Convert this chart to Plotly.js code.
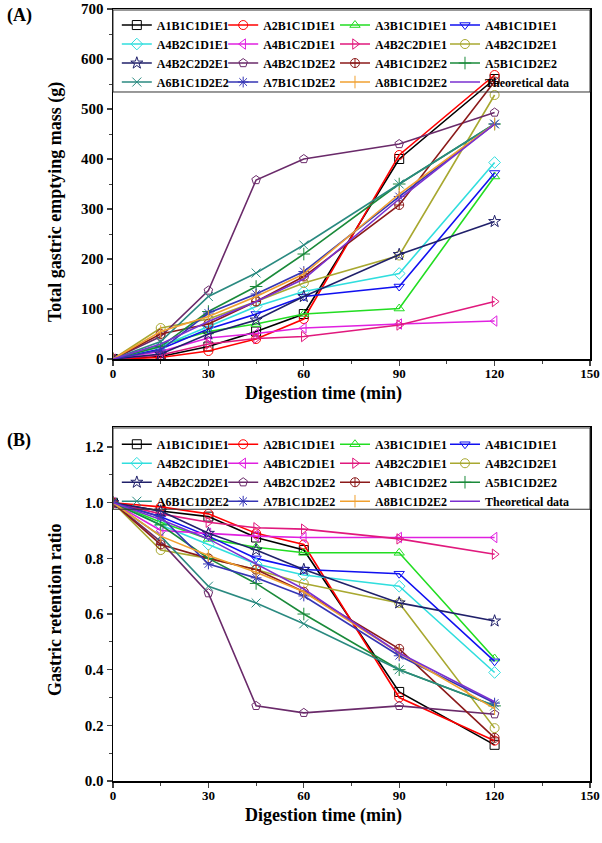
<!DOCTYPE html>
<html><head><meta charset="utf-8">
<script src="https://cdn.plot.ly/plotly-3.0.1.min.js"></script>
<style>html,body{margin:0;padding:0;background:#fff}#chart{width:602px;height:843px}</style>
</head><body><div id="chart"></div>
<script>
var time = [0, 15, 30, 45, 60, 90, 120];
var names = ["A1B1C1D1E1","A2B1C1D1E1","A3B1C1D1E1","A4B1C1D1E1","A4B2C1D1E1","A4B1C2D1E1","A4B2C2D1E1","A4B2C1D2E1","A4B2C2D2E1","A4B2C1D2E2","A4B1C1D2E2","A5B1C1D2E2","A6B1C1D2E2","A7B1C1D2E2","A8B1C1D2E2","Theoretical data"];
// Panel A: total gastric emptying mass (g)
var massA1 = [0, 5, 25, 55, 90, 400, 560];
var massA2 = [0, 3, 16, 40, 80, 408, 568];
var massA3 = [0, 28, 55, 70, 90, 101, 365];
var massA4 = [0, 20, 60, 90, 125, 145, 372];
var massA5 = [0, 25, 65, 105, 135, 171, 393];
var massA6 = [0, 15, 42, 51, 62, 70, 76];
var massA7 = [0, 8, 30, 41, 45, 68, 115];
var massA8 = [0, 62, 80, 115, 152, 207, 528];
var massA9 = [0, 10, 50, 78, 125, 209, 275];
var massA10 = [0, 45, 137, 358, 400, 430, 493];
var massA11 = [0, 50, 70, 115, 165, 308, 555];
var massA12 = [0, 25, 95, 145, 210, 350, 470];
var massA13 = [0, 35, 125, 172, 228, 350, 470];
var massA14 = [0, 18, 92, 130, 175, 325, 470];
var massA15 = [0, 55, 85, 125, 170, 330, 470];
var massTheo = [0, 30, 75, 115, 160, 320, 470];
// Panel B: gastric retention ratio
var retA1 = [1, 0.97, 0.95, 0.875, 0.83, 0.32, 0.13];
var retA2 = [1, 0.985, 0.96, 0.89, 0.85, 0.30, 0.145];
var retA3 = [1, 0.93, 0.87, 0.84, 0.82, 0.82, 0.44];
var retA4 = [1, 0.95, 0.88, 0.80, 0.76, 0.745, 0.43];
var retA5 = [1, 0.92, 0.85, 0.78, 0.74, 0.70, 0.39];
var retA6 = [1, 0.90, 0.89, 0.88, 0.875, 0.875, 0.875];
var retA7 = [1, 0.96, 0.93, 0.91, 0.905, 0.87, 0.815];
var retA8 = [1, 0.83, 0.80, 0.76, 0.71, 0.64, 0.19];
var retA9 = [1, 0.97, 0.89, 0.83, 0.76, 0.64, 0.575];
var retA10 = [1, 0.86, 0.675, 0.27, 0.245, 0.27, 0.24];
var retA11 = [1, 0.85, 0.80, 0.76, 0.68, 0.475, 0.155];
var retA12 = [1, 0.92, 0.80, 0.71, 0.60, 0.40, 0.27];
var retA13 = [1, 0.88, 0.70, 0.64, 0.565, 0.40, 0.27];
var retA14 = [1, 0.95, 0.78, 0.73, 0.665, 0.45, 0.28];
var retA15 = [1, 0.88, 0.81, 0.75, 0.68, 0.46, 0.26];
var retTheo = [1, 0.94, 0.87, 0.78, 0.69, 0.46, 0.285];

var xTickVals = [0, 30, 60, 90, 120, 150];
var xTitle = 'Digestion time (min)';
var yTitleA = 'Total gastric emptying mass (g)';
var yTitleB = 'Gastric retention ratio';

var massSeries = [massA1,massA2,massA3,massA4,massA5,massA6,massA7,massA8,massA9,massA10,massA11,massA12,massA13,massA14,massA15,massTheo];
var retSeries = [retA1,retA2,retA3,retA4,retA5,retA6,retA7,retA8,retA9,retA10,retA11,retA12,retA13,retA14,retA15,retTheo];

var colors = ["#000000","#ff0000","#22dd22","#1010f0","#30dede","#e020e0","#e0197d","#a8a830","#20206a","#6a2a6a","#8b1a1a","#1a8a3a","#2a8a80","#3535b5","#f0a030","#7a30d0"];
var symbols = ["square-open","circle-open","triangle-up-open","triangle-down-open","diamond-open","triangle-left-open","triangle-right-open","circle-open","star-open","pentagon-open","circle-cross-open","cross-thin-open","x-thin-open","asterisk-open","line-ns-open",null];

var traces = [];
// legend columns: entry i goes to column (i % 4)
function addSet(series, xa, ya, legOffset) {
  for (var i = 0; i < series.length; i++) {
    var li = legOffset + (i % 4) + 1;
    var t = {
      x: time, y: series[i], name: names[i], type: 'scatter', xaxis: xa, yaxis: ya,
      legend: li === 1 ? 'legend' : 'legend' + li,
      line: {color: colors[i], width: 1.6}
    };
    if (symbols[i]) {
      t.mode = 'lines+markers';
      t.marker = {symbol: symbols[i], size: 9, color: colors[i], line: {width: 1, color: colors[i]}};
    } else {
      t.mode = 'lines';
    }
    traces.push(t);
  }
}
addSet(massSeries, 'x', 'y', 0);
addSet(retSeries, 'x2', 'y2', 4);

var serif = 'Liberation Serif, Times New Roman, serif';
var xTickFont = {family: serif, size: 13, color: '#000', weight: 'bold'};
var yTickFont = {family: serif, size: 15, color: '#000', weight: 'bold'};
var titleFont = {family: serif, size: 18, color: '#000', weight: 'bold'};
function xax(anchor) {
  return {anchor: anchor, domain: [0, 1], range: [0, 150], tickvals: xTickVals, ticks: 'outside', ticklen: 5, tickwidth: 1.2,
    minor: {dtick: 15, ticks: 'outside', ticklen: 3, tickwidth: 1}, showline: true, linewidth: 1.5, linecolor: '#000', mirror: true,
    showgrid: false, zeroline: false, tickfont: xTickFont, ticklabelstandoff: -3};
}
var legendFont = {family: serif, size: 12, color: '#000', weight: 'bold'};
var colX = [0.008, 0.231, 0.4654, 0.696];
var layout = {
  width: 602, height: 843,
  margin: {l: 113, r: 12, t: 9, b: 62},
  paper_bgcolor: '#fff', plot_bgcolor: '#fff',
  showlegend: true,
  xaxis: xax('y'),
  xaxis2: xax('y2'),
  yaxis: {anchor: 'x', domain: [0.5466, 1], range: [0, 700], dtick: 100, ticks: 'outside', ticklen: 5, tickwidth: 1.2,
    minor: {dtick: 50, ticks: 'outside', ticklen: 3, tickwidth: 1}, showline: true, linewidth: 1.5, linecolor: '#000', mirror: true,
    showgrid: false, zeroline: false, tickfont: yTickFont},
  yaxis2: {anchor: 'x2', domain: [0, 0.4585], range: [0, 1.272], dtick: 0.2, tickformat: '.1f', ticks: 'outside', ticklen: 5, tickwidth: 1.2,
    minor: {dtick: 0.1, ticks: 'outside', ticklen: 3, tickwidth: 1}, showline: true, linewidth: 1.5, linecolor: '#000', mirror: true,
    showgrid: false, zeroline: false, tickfont: yTickFont},
  shapes: [
    {type: 'rect', xref: 'paper', yref: 'paper', x0: 0, x1: 1, y0: 0.8925, y1: 0.9987, line: {color: '#333', width: 1}, fillcolor: 'rgba(0,0,0,0)', layer: 'above'},
    {type: 'rect', xref: 'paper', yref: 'paper', x0: 0, x1: 1, y0: 0.352, y1: 0.4573, line: {color: '#333', width: 1}, fillcolor: 'rgba(0,0,0,0)', layer: 'above'}
  ],
  annotations: [
    {text: '(A)', xref: 'paper', yref: 'paper', x: -0.226, xanchor: 'left', y: 0.992, yanchor: 'middle', showarrow: false, font: {family: serif, size: 18, color: '#000', weight: 'bold'}},
    {text: '(B)', xref: 'paper', yref: 'paper', x: -0.226, xanchor: 'left', y: 0.4417, yanchor: 'middle', showarrow: false, font: {family: serif, size: 18, color: '#000', weight: 'bold'}},
    {text: xTitle, xref: 'paper', yref: 'paper', x: 0.442, xanchor: 'center', y: 0.5013, yanchor: 'middle', showarrow: false, font: titleFont},
    {text: xTitle, xref: 'paper', yref: 'paper', x: 0.442, xanchor: 'center', y: -0.0453, yanchor: 'middle', showarrow: false, font: titleFont},
    {text: yTitleA, xref: 'paper', yref: 'paper', x: -0.1216, xanchor: 'center', y: 0.75, yanchor: 'middle', textangle: -90, showarrow: false, font: titleFont},
    {text: yTitleB, xref: 'paper', yref: 'paper', x: -0.1216, xanchor: 'center', y: 0.2228, yanchor: 'middle', textangle: -90, showarrow: false, font: titleFont}
  ]
};
for (var k = 0; k < 8; k++) {
  var key = k === 0 ? 'legend' : 'legend' + (k + 1);
  layout[key] = {orientation: 'v', x: colX[k % 4], xanchor: 'left', y: k < 4 ? 0.998 : 0.455, yanchor: 'top',
    bgcolor: 'rgba(255,255,255,0)', borderwidth: 0, font: legendFont, itemwidth: 30, itemclick: false, tracegroupgap: 0};
}
Plotly.newPlot('chart', traces, layout, {displayModeBar: false, staticPlot: true});
</script></body></html>
